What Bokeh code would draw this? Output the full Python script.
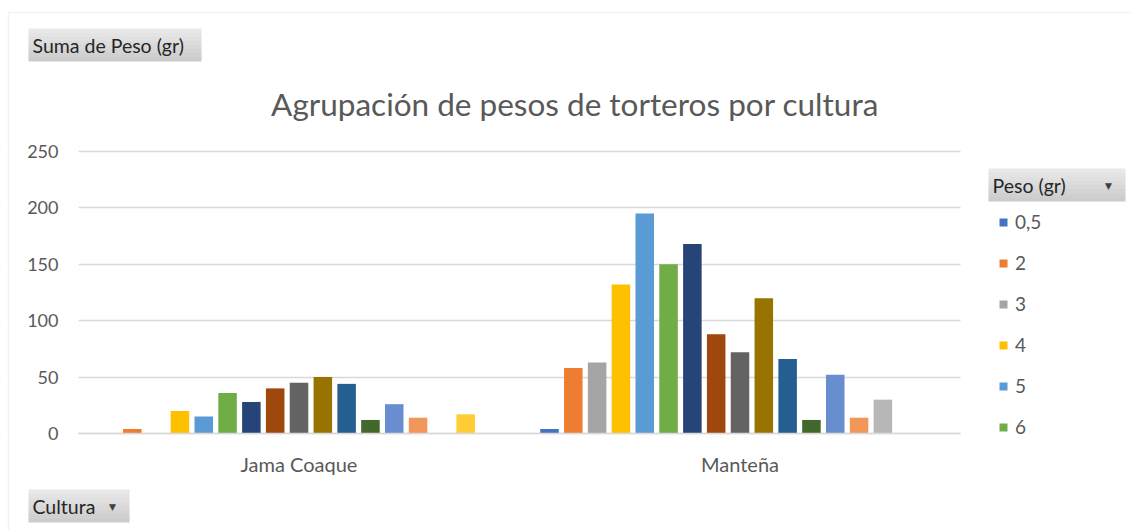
from bokeh.plotting import figure
from bokeh.models import (Range1d, Legend, LegendItem, Label, BoxAnnotation,
                          FixedTicker, ColumnDataSource)
from bokeh.embed import file_html
from bokeh.resources import INLINE

# ---- data ----
cultures = ["Jama Coaque", "Manteña"]
series_labels = ["0,5", "2", "3", "4", "5", "6", "7", "8", "9", "10",
                 "11", "12", "13", "14", "15", "17", "(en blanco)"]
jama_coaque = [0, 4, 0, 20, 15, 36, 28, 40, 45, 50, 44, 12, 26, 14, 0, 17, 0]
mantena = [4, 58, 63, 132, 195, 150, 168, 88, 72, 120, 66, 12, 52, 14, 30, 0, 0]
colors = ["#4472C4", "#ED7D31", "#A5A5A5", "#FFC000", "#5B9BD5", "#70AD47",
          "#264478", "#9E480E", "#636363", "#997300", "#255E91", "#43682B",
          "#698ED0", "#F1975A", "#B7B7B7", "#FFCD33", "#7CAFDD"]
y_ticks = [0, 50, 100, 150, 200, 250]
title_text = "Agrupación de pesos de torteros por cultura"

FONT = "Lato"
GRID = "#d9d9d9"
TXT = "#595959"

W, H = 1131, 530
# plot area (pixels in canvas): left 78, right 960, top 151, bottom 433
PL, PR, PT, PB = 78, 960, 151, 433
ymax = 250
cat_px = (PR - PL) / len(cultures)
ypx = (PB - PT) / ymax

p = figure(x_range=Range1d(-PL / cat_px, len(cultures) + (W - PR) / cat_px),
           y_range=Range1d(-(H - PB) / ypx, ymax + PT / ypx),
           width=W, height=H, output_backend="svg", toolbar_location=None,
           min_border=0, min_border_left=0, min_border_right=0,
           min_border_top=0, min_border_bottom=0)
p.title.visible = False
p.outline_line_color = None
p.background_fill_color = "white"
p.border_fill_color = "white"

n = len(series_labels)
pitch = 0.054
bw = 0.042
cat_pos = [i + 0.5 for i in range(len(cultures))]
renderers = []
for i in range(n):
    xs = [c + (i - (n - 1) / 2) * pitch for c in cat_pos]
    src = ColumnDataSource(dict(x=xs, top=[jama_coaque[i], mantena[i]]))
    r = p.vbar(x="x", top="top", width=bw, source=src,
               fill_color=colors[i], line_color=None)
    renderers.append(r)

# grid: hide outside plot area with white underlay boxes
p.xgrid.grid_line_color = None
p.ygrid.ticker = FixedTicker(ticks=y_ticks)
p.ygrid.grid_line_color = GRID
p.ygrid.grid_line_width = 1.5
for l, r in [(-20, PL), (PR, W + 20)]:
    p.add_layout(BoxAnnotation(left=l, right=r, top=H + 20, bottom=-20,
                               left_units="screen", right_units="screen",
                               top_units="screen", bottom_units="screen",
                               fill_color="white", fill_alpha=1, line_color=None,
                               level="underlay"))

# axes placed inside the frame
p.yaxis.fixed_location = 0
p.yaxis.bounds = (0, ymax)
p.yaxis.ticker = FixedTicker(ticks=y_ticks)
p.yaxis.axis_line_color = None
p.yaxis.major_tick_line_color = None
p.yaxis.minor_tick_line_color = None
p.yaxis.major_tick_in = 0
p.yaxis.major_tick_out = 0
p.yaxis.major_label_standoff = 20
p.yaxis.major_label_text_font = FONT
p.yaxis.major_label_text_font_size = "18px"
p.yaxis.major_label_text_color = TXT

p.xaxis.fixed_location = 0
p.xaxis.bounds = (0, len(cultures))
p.xaxis.ticker = FixedTicker(ticks=cat_pos)
p.xaxis.major_label_overrides = {c: name for c, name in zip(cat_pos, cultures)}
p.xaxis.axis_line_color = GRID
p.xaxis.axis_line_width = 1.5
p.xaxis.major_tick_line_color = None
p.xaxis.minor_tick_line_color = None
p.xaxis.major_tick_in = 0
p.xaxis.major_tick_out = 0
p.xaxis.major_label_standoff = 18
p.xaxis.major_label_text_font = FONT
p.xaxis.major_label_text_font_size = "20px"
p.xaxis.major_label_text_color = TXT

# legend (first six series, like the reference)
legend = Legend(items=[LegendItem(label=series_labels[i], renderers=[renderers[i]])
                       for i in range(6)],
                location=(998, H - 438), orientation="vertical",
                glyph_width=10, glyph_height=10, label_height=20, spacing=18,
                padding=0, margin=0, border_line_color=None,
                background_fill_alpha=0, label_text_font=FONT,
                label_text_font_size="19px", label_text_color=TXT,
                label_standoff=7)
p.add_layout(legend)

# chart border
p.add_layout(BoxAnnotation(left=8, right=W + 20, top=H - 12, bottom=-20,
                           left_units="screen", right_units="screen",
                           top_units="screen", bottom_units="screen",
                           fill_alpha=0, line_color="#d4d4d4", line_width=1.5))

# title
p.add_layout(Label(x=574.5, y=H - 103, x_units="screen", y_units="screen",
                   text=title_text, text_align="center", text_baseline="middle",
                   text_font=FONT, text_font_size="31.5px", text_color=TXT))

# pivot field buttons
grad = ["#e8e8e8", "#e4e4e4", "#e0e0e0", "#dcdcdc", "#d8d8d8",
        "#d4d4d4", "#d0d0d0", "#cccccc"]

def button(l, r, t, b, txt, arrow):
    hstep = (b - t) / len(grad)
    for k, c in enumerate(grad):
        p.add_layout(BoxAnnotation(left=l, right=r,
                                   top=H - (t + k * hstep),
                                   bottom=H - min(b, t + (k + 1) * hstep + 0.8),
                                   left_units="screen", right_units="screen",
                                   top_units="screen", bottom_units="screen",
                                   fill_color=c, fill_alpha=1, line_color=None))
    p.add_layout(Label(x=l + 4, y=H - (t + b) / 2, x_units="screen", y_units="screen",
                       text=txt, text_align="left", text_baseline="middle",
                       text_font=FONT, text_font_size="19.5px", text_color="#262626"))
    if arrow:
        p.add_layout(Label(x=r - 17, y=H - (t + b) / 2 - 1, x_units="screen",
                           y_units="screen", text="▼", text_align="center",
                           text_baseline="middle", text_font="DejaVu Sans",
                           text_font_size="9px", text_color="#404040"))

button(28, 201, 28, 61, "Suma de Peso (gr)", False)
button(988, 1125, 168, 201, "Peso (gr)", True)
button(28, 129, 489, 522, "Cultura", True)

open("out.html", "w").write(file_html(p, INLINE))
